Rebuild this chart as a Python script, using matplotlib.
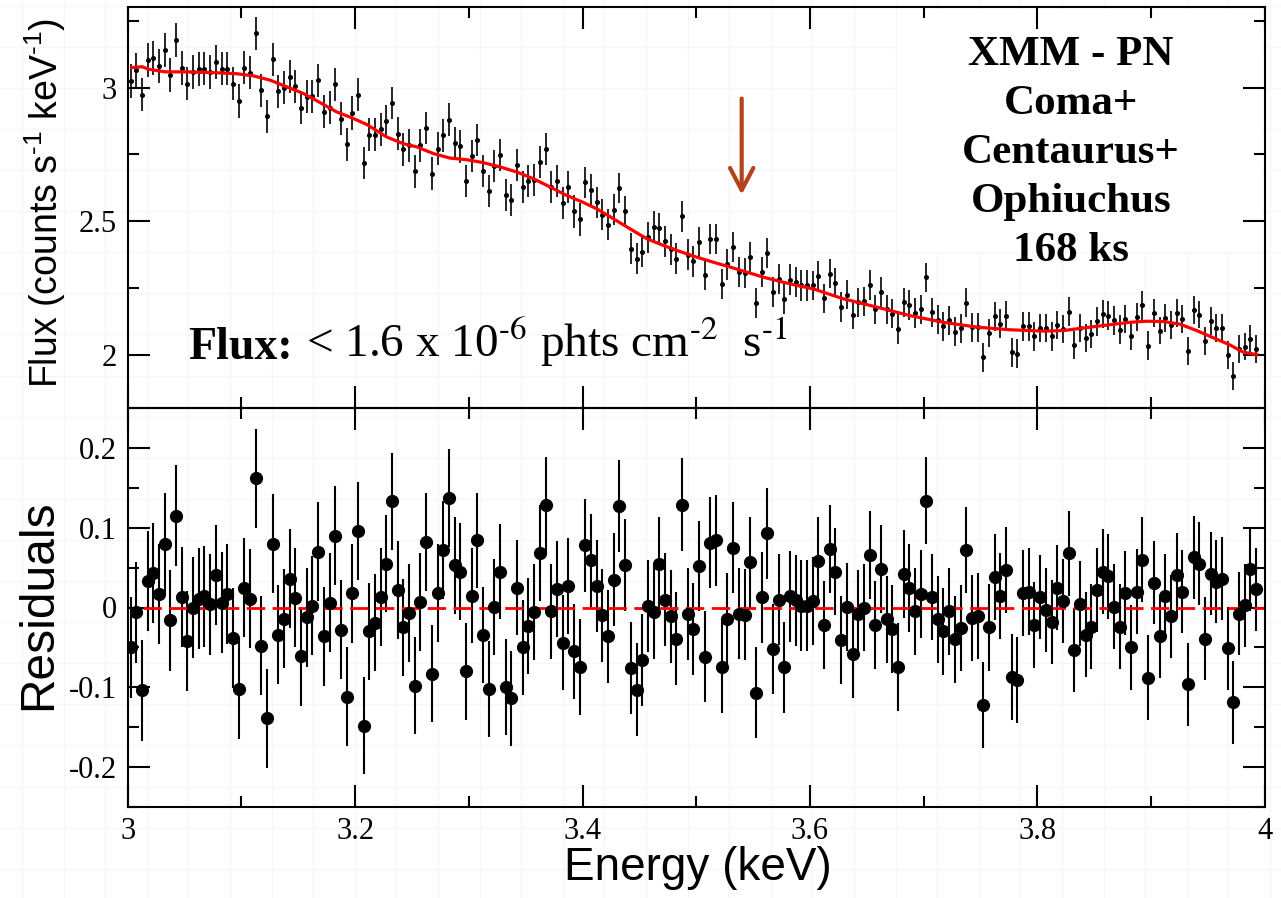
import numpy as np
import matplotlib
matplotlib.use("Agg")
import matplotlib.pyplot as plt
from matplotlib.ticker import MultipleLocator, FixedLocator, FixedFormatter
from matplotlib.lines import Line2D
from matplotlib.patches import Rectangle

plt.rcParams['font.family'] = ['Liberation Serif', 'DejaVu Serif']
plt.rcParams['axes.unicode_minus'] = False
plt.rcParams['mathtext.fontset'] = 'custom'
plt.rcParams['mathtext.rm'] = 'Liberation Sans'
plt.rcParams['mathtext.it'] = 'Liberation Sans:italic'
plt.rcParams['mathtext.bf'] = 'Liberation Sans:bold'

# ---------------- data ----------------
E_START = 3.0          # keV, lower edge of first channel
CHANNEL = 0.005        # keV, channel width

flux = [
    3.024, 3.065, 2.974, 3.103, 3.111, 3.080, 3.140, 3.046, 3.178, 3.074,
    3.015, 3.059, 3.069, 3.071, 3.059, 3.096, 3.071, 3.071, 3.015, 2.950,
    3.074, 3.056, 3.203, 2.990, 2.893, 3.106, 2.986, 2.999, 3.040, 3.005,
    2.924, 2.965, 2.968, 3.028, 2.909, 2.925, 3.013, 2.884, 2.788, 2.905,
    2.974, 2.718, 2.824, 2.824, 2.844, 2.875, 2.943, 2.828, 2.769, 2.784,
    2.686, 2.784, 2.849, 2.678, 2.771, 2.821, 2.880, 2.793, 2.780, 2.650,
    2.743, 2.805, 2.686, 2.613, 2.706, 2.746, 2.599, 2.578, 2.709, 2.628,
    2.649, 2.655, 2.721, 2.771, 2.628, 2.649, 2.569, 2.628, 2.536, 2.506,
    2.646, 2.618, 2.571, 2.524, 2.486, 2.543, 2.624, 2.536, 2.396, 2.359,
    2.386, 2.440, 2.478, 2.474, 2.424, 2.394, 2.359, 2.518, 2.374, 2.349,
    2.421, 2.299, 2.434, 2.432, 2.265, 2.338, 2.403, 2.309, 2.306, 2.365,
    2.194, 2.309, 2.381, 2.234, 2.284, 2.209, 2.281, 2.271, 2.259, 2.259,
    2.259, 2.296, 2.211, 2.303, 2.269, 2.178, 2.224, 2.150, 2.196, 2.199,
    2.261, 2.169, 2.234, 2.169, 2.153, 2.096, 2.196, 2.186, 2.156, 2.169,
    2.290, 2.159, 2.131, 2.106, 2.128, 2.086, 2.099, 2.194, 2.103, 2.103,
    1.990, 2.081, 2.144, 2.115, 2.146, 2.009, 2.003, 2.106, 2.106, 2.068,
    2.099, 2.099, 2.068, 2.111, 2.096, 2.161, 2.036, 2.099, 2.063, 2.078,
    2.124, 2.153, 2.146, 2.128, 2.094, 2.134, 2.071, 2.140, 2.184, 2.034,
    2.156, 2.090, 2.138, 2.111, 2.156, 2.134, 2.013, 2.168, 2.150, 2.050,
    2.125, 2.100, 2.099, 1.999, 1.921, 2.021, 2.030, 2.059, 2.021,
]

residual = [
    -0.050, -0.006, -0.104, 0.033, 0.043, 0.017, 0.080, -0.016, 0.115, 0.013,
    -0.042, 0.000, 0.011, 0.014, 0.004, 0.041, 0.006, 0.017, -0.038, -0.102,
    0.025, 0.011, 0.162, -0.048, -0.139, 0.080, -0.034, -0.014, 0.036, 0.012,
    -0.061, -0.012, 0.002, 0.070, -0.036, 0.006, 0.090, -0.028, -0.112, 0.018,
    0.096, -0.148, -0.030, -0.019, 0.013, 0.055, 0.133, 0.022, -0.025, -0.007,
    -0.098, 0.007, 0.082, -0.083, 0.018, 0.072, 0.137, 0.053, 0.045, -0.080,
    0.015, 0.084, -0.034, -0.102, 0.001, 0.045, -0.100, -0.114, 0.025, -0.050,
    -0.023, -0.006, 0.068, 0.128, -0.005, 0.023, -0.044, 0.027, -0.055, -0.075,
    0.078, 0.059, 0.027, -0.010, -0.036, 0.035, 0.127, 0.053, -0.076, -0.103,
    -0.066, 0.002, -0.006, 0.055, 0.010, -0.011, -0.039, 0.129, -0.008, -0.027,
    0.052, -0.062, 0.081, 0.084, -0.075, -0.014, 0.075, -0.008, -0.009, 0.057,
    -0.107, 0.013, 0.093, -0.052, 0.010, -0.075, 0.014, 0.009, 0.002, 0.002,
    0.008, 0.058, -0.022, 0.073, 0.045, -0.041, 0.001, -0.058, -0.008, 0.000,
    0.066, -0.022, 0.048, -0.015, -0.027, -0.075, 0.042, 0.024, -0.005, 0.017,
    0.134, 0.013, -0.015, -0.030, -0.005, -0.040, -0.026, 0.072, -0.013, -0.011,
    -0.122, -0.025, 0.038, 0.014, 0.047, -0.087, -0.091, 0.018, 0.020, -0.022,
    0.013, -0.003, -0.018, 0.025, 0.008, 0.068, -0.053, 0.005, -0.034, -0.024,
    0.022, 0.045, 0.039, 0.001, -0.024, 0.018, -0.050, 0.020, 0.060, -0.088,
    0.031, -0.036, 0.015, -0.011, 0.041, 0.020, -0.096, 0.063, 0.055, -0.039,
    0.042, 0.032, 0.036, -0.051, -0.119, -0.008, 0.003, 0.048, 0.023,
]

error = [
    0.063, 0.063, 0.063, 0.063, 0.063, 0.063, 0.063, 0.063, 0.063, 0.063,
    0.063, 0.063, 0.063, 0.063, 0.063, 0.063, 0.063, 0.063, 0.063, 0.063,
    0.062, 0.062, 0.062, 0.062, 0.062, 0.062, 0.062, 0.062, 0.062, 0.062,
    0.062, 0.062, 0.062, 0.062, 0.062, 0.062, 0.062, 0.062, 0.062, 0.062,
    0.061, 0.061, 0.061, 0.061, 0.061, 0.061, 0.061, 0.061, 0.061, 0.061,
    0.061, 0.061, 0.061, 0.061, 0.061, 0.061, 0.061, 0.061, 0.061, 0.061,
    0.060, 0.060, 0.060, 0.060, 0.060, 0.060, 0.060, 0.060, 0.060, 0.060,
    0.060, 0.060, 0.060, 0.060, 0.060, 0.060, 0.060, 0.060, 0.060, 0.060,
    0.058, 0.058, 0.058, 0.058, 0.058, 0.058, 0.058, 0.058, 0.058, 0.058,
    0.058, 0.058, 0.058, 0.058, 0.058, 0.058, 0.058, 0.058, 0.058, 0.058,
    0.057, 0.057, 0.057, 0.057, 0.057, 0.057, 0.057, 0.057, 0.057, 0.057,
    0.057, 0.057, 0.057, 0.057, 0.057, 0.057, 0.057, 0.057, 0.057, 0.057,
    0.055, 0.055, 0.055, 0.055, 0.055, 0.055, 0.055, 0.055, 0.055, 0.055,
    0.055, 0.055, 0.055, 0.055, 0.055, 0.055, 0.055, 0.055, 0.055, 0.055,
    0.054, 0.054, 0.054, 0.054, 0.054, 0.054, 0.054, 0.054, 0.054, 0.054,
    0.054, 0.054, 0.054, 0.054, 0.054, 0.054, 0.054, 0.054, 0.054, 0.054,
    0.053, 0.053, 0.053, 0.053, 0.053, 0.053, 0.053, 0.053, 0.053, 0.053,
    0.053, 0.053, 0.053, 0.053, 0.053, 0.053, 0.053, 0.053, 0.053, 0.053,
    0.052, 0.052, 0.052, 0.052, 0.052, 0.052, 0.052, 0.052, 0.052, 0.052,
    0.052, 0.052, 0.052, 0.052, 0.052, 0.052, 0.052, 0.052, 0.052,
]

model_energy = [
    3.0035, 3.0129, 3.0181, 3.0331, 3.0519, 3.0812, 3.0959, 3.1105, 3.1252, 3.1398,
    3.1545, 3.1691, 3.1838, 3.1970, 3.2102, 3.2278, 3.2424, 3.2542, 3.2688, 3.2835,
    3.2981, 3.3127, 3.3274, 3.3421, 3.3567, 3.3714, 3.3861, 3.4007, 3.4125, 3.4271,
    3.4418, 3.4565, 3.4711, 3.4858, 3.5004, 3.5151, 3.5297, 3.5444, 3.5590, 3.5737,
    3.5884, 3.6030, 3.6294, 3.6587, 3.6880, 3.7173, 3.7467, 3.7760, 3.8053, 3.8229,
    3.8522, 3.8815, 3.8962, 3.9108, 3.9255, 3.9402, 3.9548, 3.9695, 3.9812, 3.9930,
]
model_flux = [
    3.075, 3.078, 3.069, 3.059, 3.059, 3.055, 3.052, 3.044, 3.028, 3.003,
    2.978, 2.944, 2.909, 2.887, 2.862, 2.815, 2.790, 2.778, 2.753, 2.736,
    2.730, 2.719, 2.703, 2.684, 2.659, 2.628, 2.596, 2.570, 2.546, 2.509,
    2.471, 2.434, 2.409, 2.386, 2.365, 2.346, 2.328, 2.309, 2.290, 2.274,
    2.259, 2.246, 2.209, 2.178, 2.146, 2.121, 2.103, 2.093, 2.088, 2.090,
    2.106, 2.121, 2.125, 2.124, 2.114, 2.090, 2.063, 2.036, 2.009, 2.000,
]

x_ticks = [3.0, 3.2, 3.4, 3.6, 3.8, 4.0]
x_tick_labels = ['3', '3.2', '3.4', '3.6', '3.8', '4']
flux_ticks = [2.0, 2.5, 3.0]
flux_tick_labels = ['2', '2.5', '3']
resid_ticks = [-0.2, -0.1, 0.0, 0.1, 0.2]
resid_tick_labels = ['-0.2', '-0.1', '0', '0.1', '0.2']

line_energy = 3.54     # keV, marked line position
info_lines = ['XMM - PN', 'Coma+', 'Centaurus+', 'Ophiuchus', '168 ks']
HY = '\u2010'  # typographic hyphen for superscripts
flux_label_bold = 'Flux:'
flux_label_rest = ('< 1.6 x 10$^{' + HY + '6}$ phts cm$^{' + HY + '2}$  s$^{' + HY + '1}$')
ylabel_top = 'Flux (counts s$^{' + HY + '1}$ keV$^{' + HY + '1}$)'

assert len(flux) == len(residual) == len(error)
energy = E_START + CHANNEL * (np.arange(len(flux)) + 0.5)

# ---------------- figure ----------------
W, H = 1281, 898
fig = plt.figure(figsize=(W / 100, H / 100), dpi=100)
fig.patch.set_facecolor('white')

# faint background grid of the slide
for gx in np.arange(22, W, 41.6):
    fig.add_artist(Line2D([gx / W, gx / W], [0, 1], transform=fig.transFigure,
                          color='#f6f6f6', lw=1.0, zorder=-10))
for gy in np.arange(5.6, H, 41.1):
    fig.add_artist(Line2D([0, 1], [1 - gy / H, 1 - gy / H], transform=fig.transFigure,
                          color='#f6f6f6', lw=1.0, zorder=-10))
fig.add_artist(Rectangle((897 / W, 1 - 252 / H), (1262 - 897) / W, (252 - 9) / H,
                         transform=fig.transFigure, facecolor='white',
                         edgecolor='none', zorder=-5))


def px_axes(l, t, r, b):
    return fig.add_axes([l / W, 1 - b / H, (r - l) / W, (b - t) / H])


ax1 = px_axes(127.7, 7.5, 1264.7, 408)
ax2 = px_axes(127.7, 408, 1264.7, 807)

for ax in (ax1, ax2):
    ax.set_facecolor('none')
    ax.set_xlim(3.0, 4.0)
    ax.xaxis.set_major_locator(FixedLocator(x_ticks))
    ax.xaxis.set_minor_locator(MultipleLocator(0.1))
    ax.tick_params(which='both', direction='in', top=True, right=True,
                   width=1.5, colors='black', labelsize=22)
    ax.tick_params(which='major', length=16)
    ax.tick_params(which='minor', length=8)
    ax.tick_params(axis='y', pad=8)
    ax.tick_params(axis='x', pad=7)
    for s in ax.spines.values():
        s.set_linewidth(1.5)

# top panel
ax1.set_ylim(1.8, 3.3)
ax1.yaxis.set_major_locator(FixedLocator(flux_ticks))
ax1.yaxis.set_major_formatter(FixedFormatter(flux_tick_labels))
ax1.yaxis.set_minor_locator(MultipleLocator(0.25))
ax1.tick_params(axis='x', labelbottom=False)

ax1.errorbar(energy, flux, yerr=error, fmt='none', ecolor='black',
             elinewidth=1.2, capsize=0, zorder=2)
ax1.plot(energy, flux, 'o', color='black', ms=2.6, zorder=2.2)
ax1.plot(model_energy, model_flux, color='#ff0000', lw=2.3, zorder=3)

ax1.annotate('', xy=(line_energy, 2.599), xytext=(line_energy, 2.959),
             arrowprops=dict(arrowstyle='->,head_length=0.8,head_width=0.42',
                             color='#b2431b', lw=3.0, shrinkA=0, shrinkB=0,
                             mutation_scale=20))

baselines = [3.0836, 2.900, 2.7162, 2.5324, 2.3487]
for txt, yb in zip(info_lines, baselines):
    ax1.text(3.8296, yb, txt, ha='center', va='baseline', fontsize=31,
             fontweight='bold', family='Liberation Serif', zorder=5)

t1 = ax1.text(3.053, 1.985, flux_label_bold, ha='left', va='baseline',
              fontsize=33, fontweight='bold', family='Liberation Serif', zorder=5)
ax1.annotate(flux_label_rest, xy=(1, 0), xycoords=t1, xytext=(10, 0),
             textcoords='offset points', ha='left', va='bottom', fontsize=34,
             family='Liberation Serif', math_fontfamily='stix', zorder=5)

# bottom panel
ax2.set_ylim(-0.25, 0.25)
ax2.yaxis.set_major_locator(FixedLocator(resid_ticks))
ax2.yaxis.set_major_formatter(FixedFormatter(resid_tick_labels))
ax2.yaxis.set_minor_locator(MultipleLocator(0.05))
ax2.xaxis.set_major_formatter(FixedFormatter(x_tick_labels))

ax2.errorbar(energy, residual, yerr=error, fmt='none', ecolor='black',
             elinewidth=1.5, capsize=0, zorder=2)
ax2.hlines(0.0, energy[0] + 0.011, 4.0, colors='#ff0000', linestyles=(0, (6.6, 2.7)),
           lw=2.0, zorder=2.5)
ax2.plot(energy, residual, 'o', color='black', ms=8.5, zorder=3)

# axis labels
fig.text(45 / W, 1 - 203 / H, ylabel_top, rotation=90,
         ha='center', va='center', fontsize=27, family='Liberation Sans')
fig.text(39 / W, 1 - 605 / H, 'Residuals', rotation=90, ha='center', va='center',
         fontsize=34.5, family='Liberation Sans')
fig.text(698 / W, 1 - 868 / H, 'Energy (keV)', ha='center', va='center',
         fontsize=33, family='Liberation Sans')

fig.savefig('out.png', dpi=100)
